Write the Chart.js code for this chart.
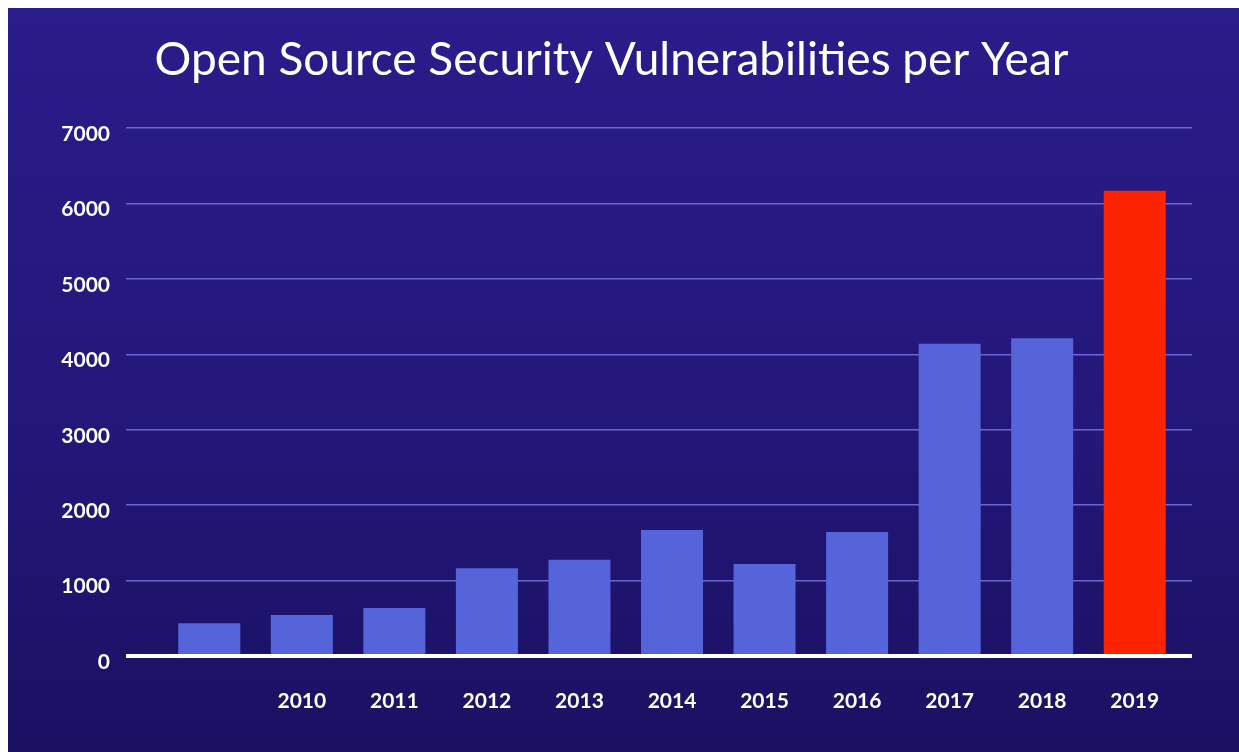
<!DOCTYPE html>
<html>
<head>
<meta charset="utf-8">
<script src="https://cdn.jsdelivr.net/npm/chart.js@4/dist/chart.umd.min.js"></script>
<style>
  html, body { margin: 0; padding: 0; background: #ffffff; }
  #wrap { position: absolute; left: 8px; top: 8px; width: 1231px; height: 744px; }
</style>
</head>
<body>
<div id="wrap"><canvas id="vulnChart"></canvas></div>
<script>
// Chart data
const years = ['', '2010', '2011', '2012', '2013', '2014', '2015', '2016', '2017', '2018', '2019'];
const vulnCounts = [435, 545, 635, 1165, 1275, 1670, 1220, 1645, 4140, 4215, 6170];
const barColors = ['#5664da', '#5664da', '#5664da', '#5664da', '#5664da', '#5664da',
                   '#5664da', '#5664da', '#5664da', '#5664da', '#ff2400'];
const yTicks = [0, 1000, 2000, 3000, 4000, 5000, 6000, 7000];

const FONT = 'Lato, "Open Sans", sans-serif';

// background gradient behind everything
const bgPlugin = {
    id: 'bgGradient',
    beforeDraw: function(chart) {
        const c = chart.ctx;
        const g = c.createLinearGradient(0, 0, 0, chart.height);
        g.addColorStop(0, '#2a1c8a');
        g.addColorStop(0.55, '#23177a');
        g.addColorStop(1, '#1a1162');
        c.save();
        c.fillStyle = g;
        c.fillRect(0, 0, chart.width, chart.height);
        c.restore();
    }
};

const gridColor = ctx => ctx.tick && ctx.tick.value === 0 ? '#ffffff' : 'rgba(120, 108, 222, 0.9)';
const gridWidth = ctx => ctx.tick && ctx.tick.value === 0 ? 4 : 1.5;

new Chart(document.getElementById('vulnChart'), {
    type: 'bar',
    data: {
        labels: years,
        datasets: [{
            data: vulnCounts,
            backgroundColor: barColors,
            borderWidth: 0,
            categoryPercentage: 1,
            barPercentage: 0.67
        }]
    },
    plugins: [bgPlugin],
    options: {
        responsive: true,
        maintainAspectRatio: false,
        animation: false,
        layout: { padding: { left: 0, right: 24, top: 0, bottom: 0 } },
        plugins: {
            legend: { display: false },
            tooltip: { enabled: false },
            title: {
                display: true,
                text: 'Open Source Security Vulnerabilities per Year',
                color: '#ffffff',
                font: { family: FONT, size: 46, weight: 'normal' },
                padding: { top: 25, bottom: 40 }
            }
        },
        scales: {
            x: {
                grid: { display: false, drawTicks: false },
                border: { display: false },
                ticks: {
                    color: '#ffffff',
                    font: { family: FONT, size: 21, weight: 'bold' },
                    padding: 33,
                    maxRotation: 0
                },
                afterFit: function(scale) { scale.height = 96; }
            },
            y: {
                min: 0,
                max: 7000,
                afterBuildTicks: function(scale) { scale.ticks = yTicks.map(v => ({ value: v })); },
                grid: { color: gridColor, lineWidth: gridWidth, drawTicks: true, tickLength: 37 },
                border: { display: false },
                ticks: {
                    color: '#ffffff',
                    font: { family: FONT, size: 21, weight: 'bold' },
                    padding: 16,
                    labelOffset: 6,
                    callback: v => String(v)
                },
                afterFit: function(scale) { scale.width = 155; }
            },
            y2: {
                position: 'right',
                min: 0,
                max: 7000,
                afterBuildTicks: function(scale) { scale.ticks = yTicks.map(v => ({ value: v })); },
                grid: { color: gridColor, lineWidth: gridWidth, drawOnChartArea: false, drawTicks: true, tickLength: 11 },
                border: { display: false },
                ticks: { display: false },
                afterFit: function(scale) { scale.width = 34; }
            }
        }
    }
});
</script>
</body>
</html>
